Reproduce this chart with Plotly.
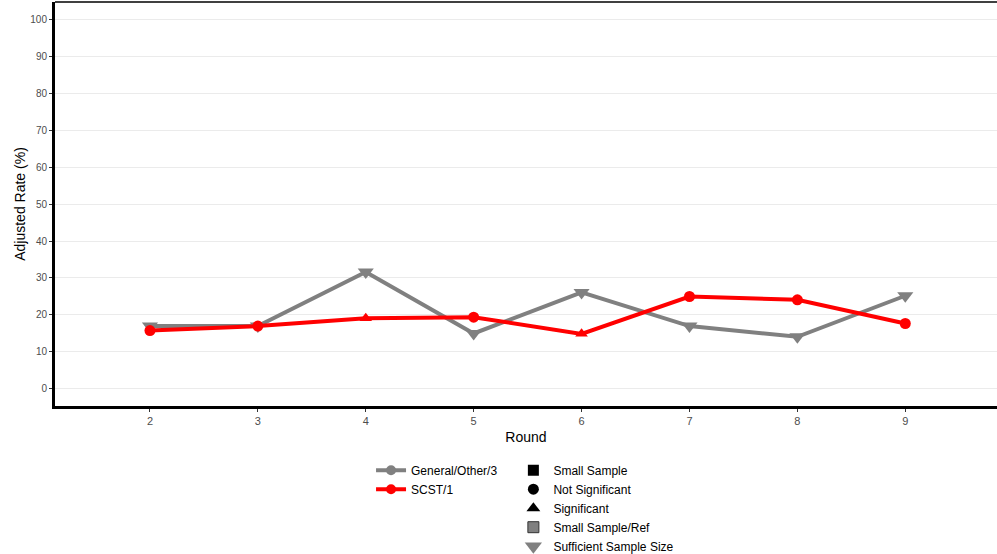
import plotly.graph_objects as go

rounds = [2, 3, 4, 5, 6, 7, 8, 9]
general_vals = [17.0, 17.0, 31.6, 15.0, 26.1, 17.0, 14.1, 25.2]
general_symbols = ["triangle-down"] * 8
scst_vals = [15.8, 17.0, 19.1, 19.4, 14.9, 25.0, 24.1, 17.7]
scst_symbols = ["circle", "circle", "triangle-up", "circle", "triangle-up", "circle", "circle", "circle"]

series_names = ["General/Other/3", "SCST/1"]
shape_names = ["Small Sample", "Not Significant", "Significant", "Small Sample/Ref", "Sufficient Sample Size"]
y_ticks = [0, 10, 20, 30, 40, 50, 60, 70, 80, 90, 100]

GRAY = "#808080"
RED = "#FF0000"

fig = go.Figure()

fig.add_trace(go.Scatter(
    x=rounds, y=general_vals, mode="lines+markers",
    line=dict(color=GRAY, width=4),
    marker=dict(symbol=general_symbols, size=14, color=GRAY),
    showlegend=False, hoverinfo="x+y", name=series_names[0], cliponaxis=False))
fig.add_trace(go.Scatter(
    x=rounds, y=scst_vals, mode="lines+markers",
    line=dict(color=RED, width=4),
    marker=dict(symbol=scst_symbols, size=11, color=RED),
    showlegend=False, hoverinfo="x+y", name=series_names[1], cliponaxis=False))

# legend 1 : series
for nm, col in zip(series_names, [GRAY, RED]):
    fig.add_trace(go.Scatter(
        x=[None], y=[None], mode="lines+markers", name=nm,
        line=dict(color=col, width=4),
        marker=dict(symbol="circle", size=10, color=col),
        legend="legend"))

# legend 2 : shapes
shape_styles = [
    dict(symbol="square", size=11, color="black"),
    dict(symbol="circle", size=11, color="black"),
    dict(symbol="triangle-up", size=12, color="black"),
    dict(symbol="square", size=11, color=GRAY, line=dict(color="#333333", width=1)),
    dict(symbol="triangle-down", size=15, color=GRAY),
]
for nm, st in zip(shape_names, shape_styles):
    fig.add_trace(go.Scatter(
        x=[None], y=[None], mode="markers", name=nm,
        marker=st, legend="legend2"))

fig.update_layout(
    width=997, height=554,
    margin=dict(l=55, r=0, t=2, b=148, autoexpand=False),
    plot_bgcolor="white", paper_bgcolor="white",
    font=dict(family="Liberation Sans, Arial, sans-serif", color="black"),
    legend=dict(x=0.3355, y=-0.123, xanchor="left", yanchor="top",
                font=dict(size=12, color="black"), bgcolor="rgba(0,0,0,0)",
                itemwidth=30, tracegroupgap=0),
    legend2=dict(x=0.4866, y=-0.123, xanchor="left", yanchor="top",
                 font=dict(size=12, color="black"), bgcolor="rgba(0,0,0,0)",
                 itemwidth=30, tracegroupgap=0),
)

fig.update_xaxes(
    range=[1.12, 9.85], tickvals=rounds, ticktext=[str(r) for r in rounds],
    showgrid=False, zeroline=False, automargin=False,
    showline=True, linecolor="black", linewidth=3,
    ticks="outside", ticklen=3, tickcolor="#333333", tickwidth=1,
    tickfont=dict(size=11, color="#4D4D4D"),
    title=dict(text="Round", font=dict(size=14, color="black"), standoff=6))
fig.update_yaxes(
    range=[-4.6, 104.6], tickvals=y_ticks, ticktext=[str(v) for v in y_ticks],
    showgrid=True, gridcolor="#EBEBEB", gridwidth=1, zeroline=False, automargin=False,
    showline=True, linecolor="black", linewidth=3,
    ticks="outside", ticklen=3, tickcolor="#333333", tickwidth=1,
    tickfont=dict(size=10, color="#4D4D4D"),
    title=dict(text="Adjusted Rate (%)", font=dict(size=14, color="black"), standoff=2))

fig.add_shape(type="line", xref="paper", yref="paper", x0=0, x1=1, y0=1, y1=1,
              line=dict(color="black", width=1.5))

fig.write_html("out.html", config={"displayModeBar": False},
               post_script="document.body.style.margin='0';document.body.style.overflow='hidden';")
